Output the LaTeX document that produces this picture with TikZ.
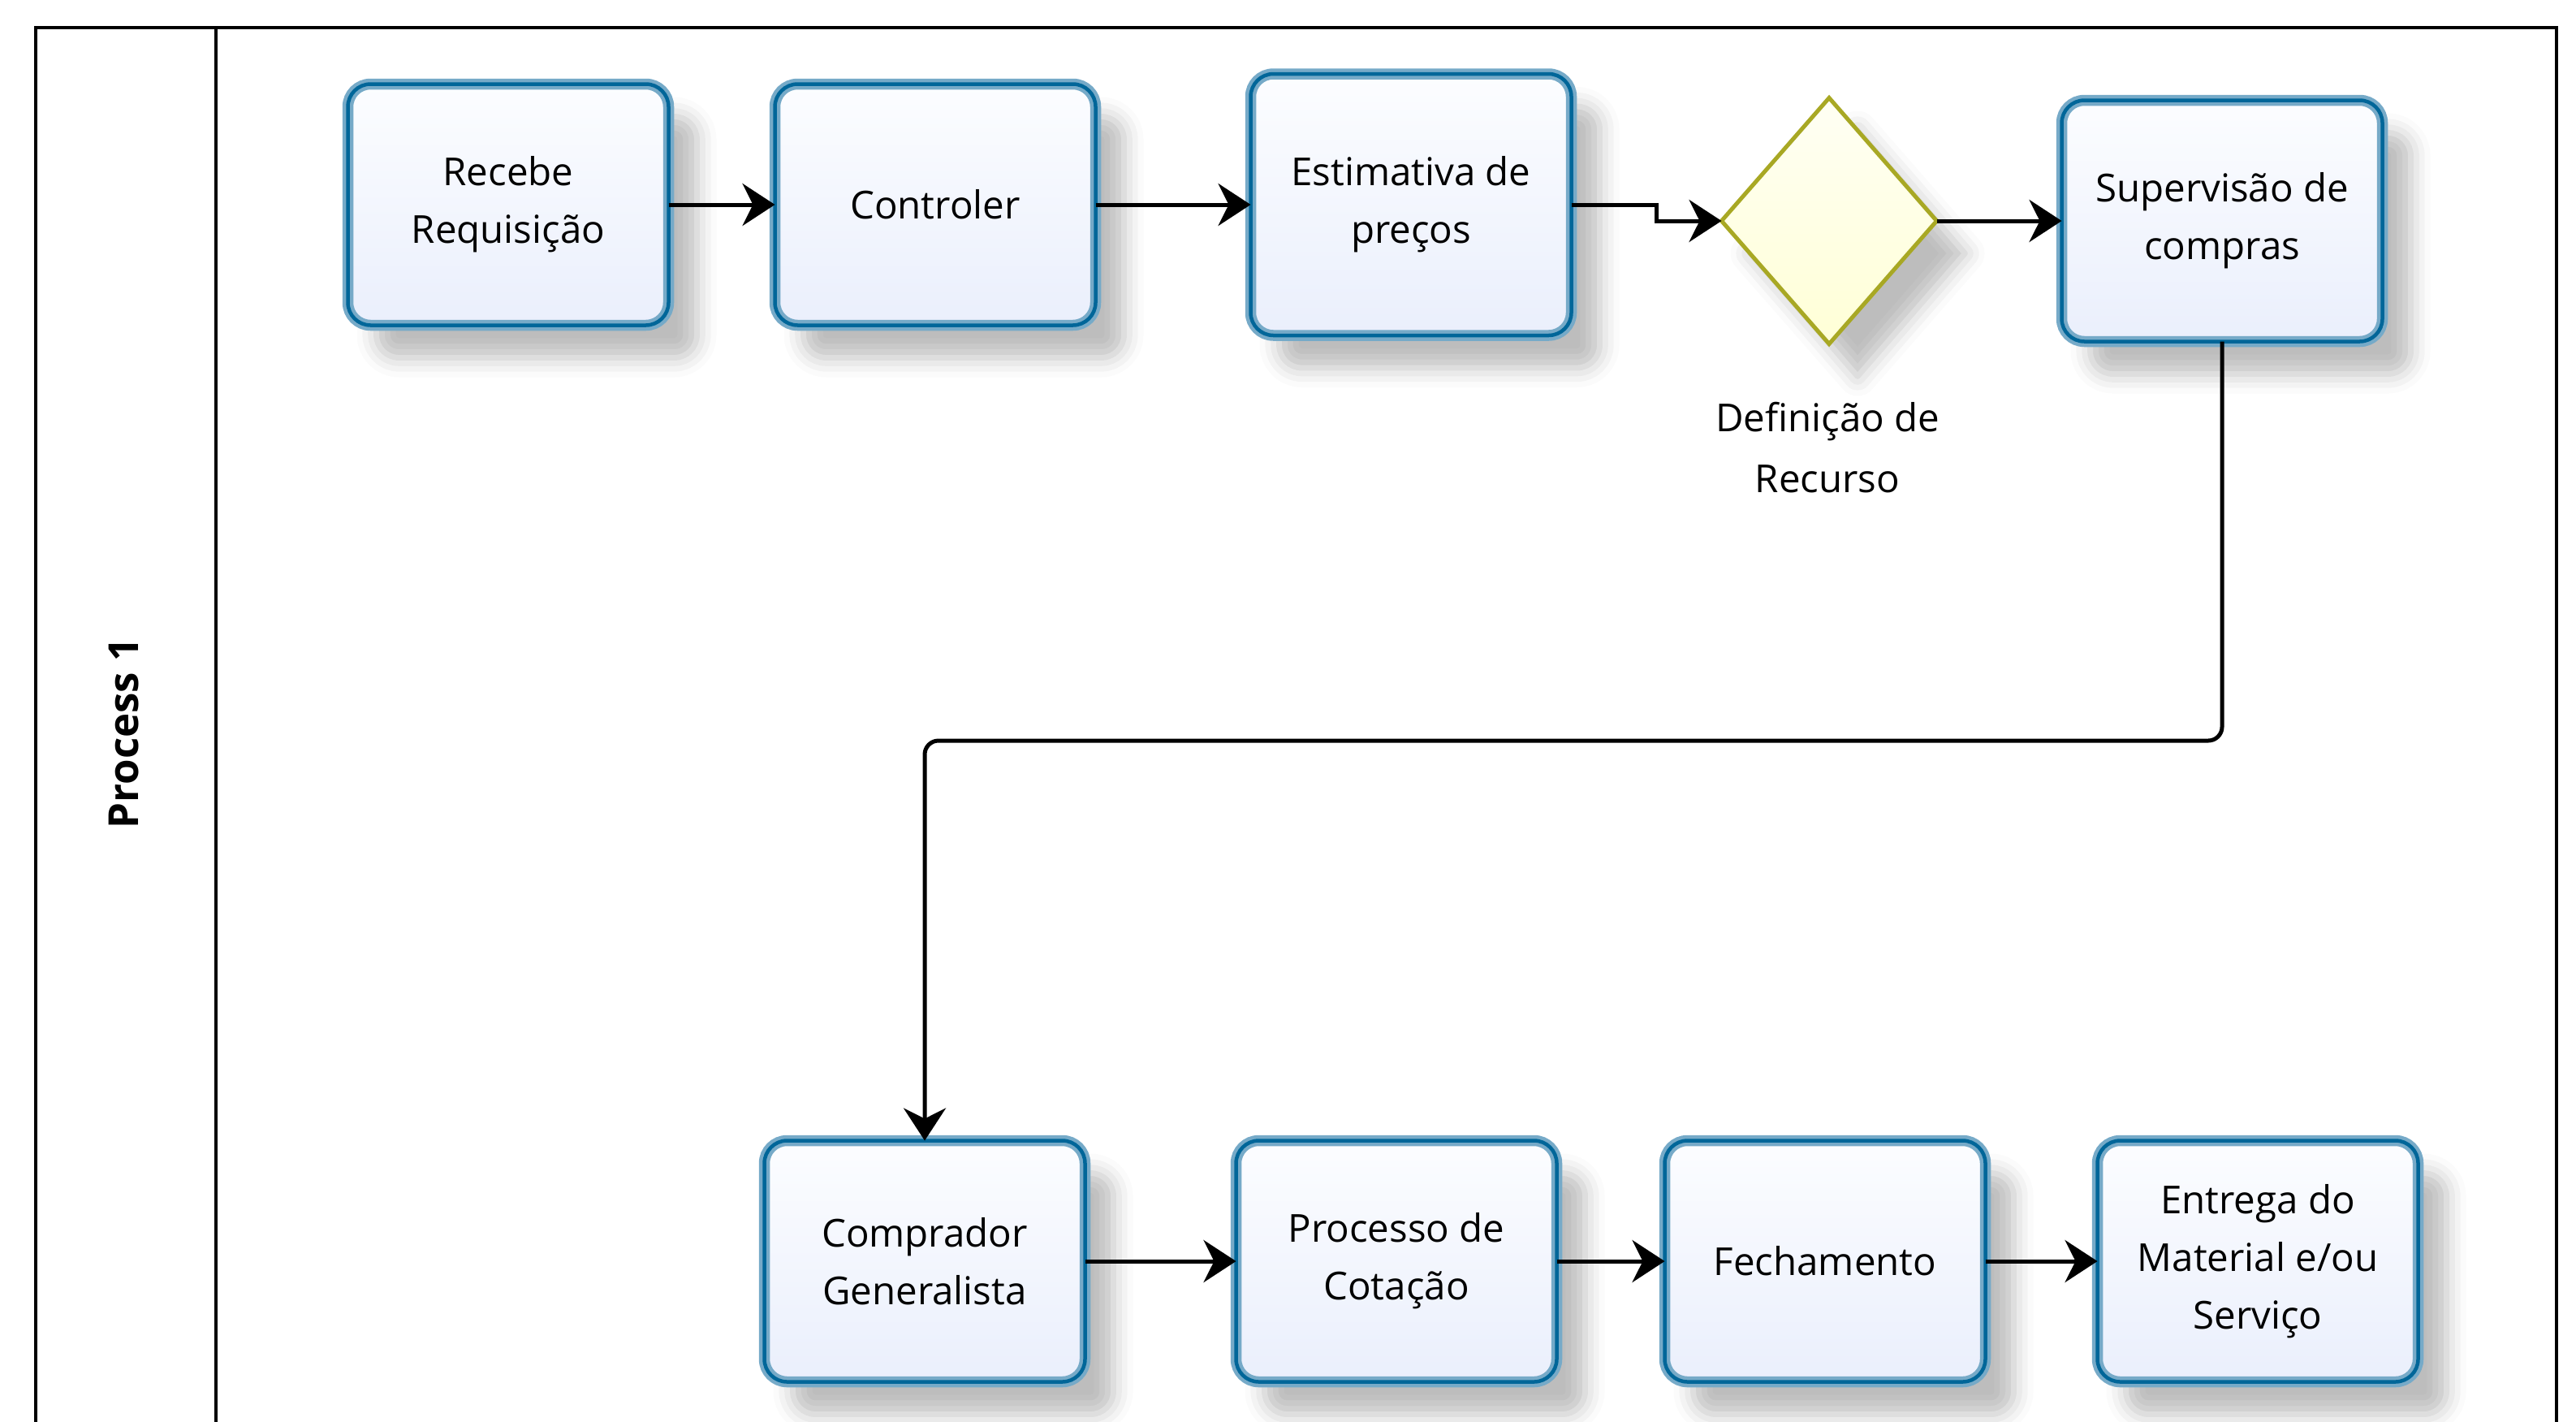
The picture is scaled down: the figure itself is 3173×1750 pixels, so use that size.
\documentclass[tikz,border=0pt]{standalone}
\usepackage{fontspec}
\setmainfont{Open Sans}
\usetikzlibrary{shapes.geometric,arrows.meta,shadows.blur}
\definecolor{taskline}{RGB}{0,102,153}
\definecolor{taskhalo}{RGB}{118,170,200}
\definecolor{tasktop}{RGB}{252,253,255}
\definecolor{taskbot}{RGB}{234,239,252}
\definecolor{gwline}{RGB}{168,168,36}
\definecolor{gwtop}{RGB}{255,255,244}
\definecolor{gwbot}{RGB}{255,255,214}
\newcommand\boxfont{\fontsize{13.5}{20.2}\selectfont}
\newcommand\lblfont{\fontsize{13.5}{21.3}\selectfont}
\begin{document}
\begin{tikzpicture}[x=0.1mm, y=-0.1mm,
  task/.style={rectangle, rounded corners=2.8mm, minimum width=39.5mm, minimum height=29.7mm,
    draw=taskhalo, line width=0.45mm, double=taskline, double distance=0.45mm,
    top color=tasktop, bottom color=taskbot, align=center, font=\boxfont, outer sep=0pt,
    blur shadow={shadow xshift=3.5mm, shadow yshift=-4mm, shadow blur radius=2.4mm, shadow opacity=26}},
  gateway/.style={diamond, minimum width=26.5mm, minimum height=30.3mm, inner sep=0pt,
    draw=gwline, line width=0.5mm, top color=gwtop, bottom color=gwbot, outer sep=0pt,
    blur shadow={shadow xshift=3.5mm, shadow yshift=-4mm, shadow blur radius=2.4mm, shadow opacity=26}},
  gwlabel/.style={align=center, font=\lblfont, inner sep=0pt},
  conn/.style={line width=0.5mm, -{Stealth[length=4mm, width=5.2mm, inset=1.3mm]}},
  frame/.style={line width=0.45mm, line cap=rect}
]
\useasboundingbox (0,0) rectangle (3173,1750);

% pool frame
\draw[frame] (44,1765) -- (44,34) -- (3149,34) -- (3149,1765);
\draw[frame] (266,34) -- (266,1765);
\node[rotate=90, font=\bfseries\fontsize{14.5}{17}\selectfont] (pool) at (153,903) {Process 1};

% tasks
\node[task] (b1) at (626,252) {Recebe\\Requisição};
\node[task] (b2) at (1152,252) {Controler};
\node[task, minimum height=32.2mm] (b3) at (1738,252) {Estimativa de\\preços};
\node[gateway] (gw) at (2253,272) {};
\node[gwlabel] (gwl) at (2251,551) {Definição de\\Recurso};
\node[task] (b5) at (2737,272) {Supervisão de\\compras};
\node[task] (b6) at (1139,1553) {Comprador\\Generalista};
\node[task] (b7) at (1720,1553) {Processo de\\Cotação};
\node[task] (b8) at (2248,1553) {Fechamento};
\node[task] (b9) at (2781,1553) {Entrega do\\Material e/ou\\Serviço};

\coordinate (k1) at (2040,0);
\coordinate (turn) at (0,912);

% connectors
\draw[conn] (b1.east) -- (b2.west);
\draw[conn] (b2.east) -- (b3.west);
\draw[conn] (b3.east) -- (k1 |- b3.east) -- (k1 |- gw.west) -- (gw.west);
\draw[conn] (gw.east) -- (b5.west);
\draw[conn, rounded corners=1.7mm] (b5.south) -- (b5.south |- turn) -- (b6.north |- turn) -- (b6.north);
\draw[conn] (b6.east) -- (b7.west);
\draw[conn] (b7.east) -- (b8.west);
\draw[conn] (b8.east) -- (b9.west);
\end{tikzpicture}
\end{document}
